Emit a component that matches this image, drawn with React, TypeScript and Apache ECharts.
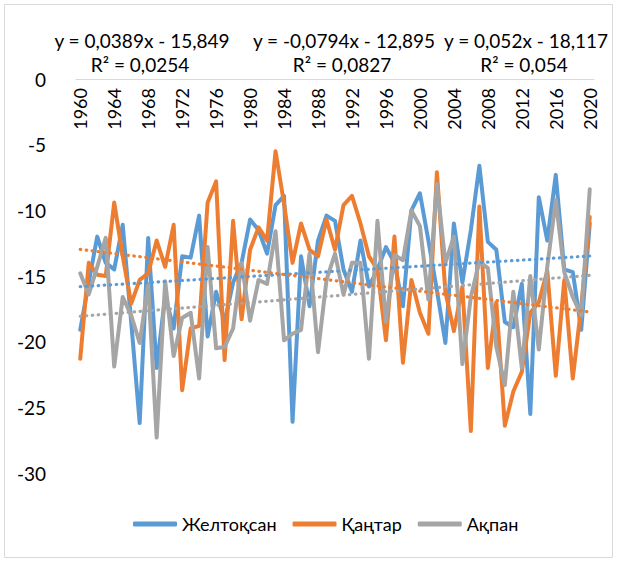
import React, { useEffect, useRef } from "react";
import * as echarts from "echarts";

const years: string[] = Array.from({ length: 61 }, (_, i) => String(1960 + i));

// December mean temperatures
const zheltoksan: number[] = [
  -19.1, -15.5, -12.0, -14.0, -14.5, -11.1, -18.5, -26.2, -12.1, -22.0,
  -16.5, -19.0, -13.5, -13.6, -10.4, -19.6, -16.2, -18.5, -15.5, -14.0,
  -10.7, -11.5, -13.3, -9.6, -8.9, -26.1, -13.5, -17.3, -12.3, -10.4,
  -10.8, -14.5, -16.2, -12.3, -15.8, -14.5, -12.8, -14.0, -17.3, -10.0,
  -8.7, -12.3, -16.1, -20.1, -11.0, -15.5, -11.5, -6.6, -12.4, -13.0,
  -18.5, -18.9, -15.6, -25.5, -9.0, -12.3, -7.3, -14.5, -14.7, -19.1,
  -11.0,
];

// January mean temperatures
const qantar: number[] = [
  -21.3, -14.0, -14.9, -15.0, -9.4, -13.5, -17.1, -15.3, -14.8, -12.3,
  -14.3, -11.1, -23.7, -19.0, -18.8, -9.4, -7.8, -21.4, -10.8, -18.3,
  -13.0, -11.3, -12.3, -5.5, -9.5, -14.0, -11.0, -13.0, -13.5, -10.7,
  -13.0, -9.6, -8.9, -11.0, -13.5, -14.5, -19.9, -12.0, -21.6, -15.3,
  -17.8, -19.4, -7.1, -16.2, -19.2, -15.8, -26.8, -9.7, -22.0, -17.0,
  -26.4, -23.8, -22.3, -17.8, -17.0, -14.6, -22.6, -15.3, -22.8, -17.3,
  -10.5,
];

// February mean temperatures
const aqpan: number[] = [
  -14.8, -16.4, -14.3, -12.1, -21.9, -16.6, -18.0, -20.1, -15.6, -27.3,
  -15.4, -21.1, -18.2, -17.8, -22.8, -12.8, -20.5, -20.4, -19.0, -14.0,
  -18.4, -15.3, -15.6, -11.6, -19.9, -19.4, -19.1, -13.3, -20.8, -15.3,
  -13.3, -16.4, -14.0, -14.0, -21.3, -10.8, -18.5, -13.4, -13.8, -10.0,
  -11.2, -16.8, -8.0, -14.0, -12.0, -21.7, -16.6, -13.9, -14.4, -20.4,
  -23.3, -16.2, -22.0, -15.0, -20.6, -14.3, -9.2, -14.7, -16.6, -18.0,
  -8.4,
];

// Linear trend coefficients (x = 1..61) and their R² values
const trendSlopes: number[] = [0.0389, -0.0794, 0.052];
const trendIntercepts: number[] = [-15.849, -12.895, -18.117];
const trendEquations: string[] = [
  "y = 0,0389x - 15,849",
  "y = -0,0794x - 12,895",
  "y = 0,052x - 18,117",
];
const trendR2: string[] = ["R² = 0,0254", "R² = 0,0827", "R² = 0,054"];

const seriesNames: string[] = ["Желтоқсан", "Қаңтар", "Ақпан"];
const seriesColors: string[] = ["#5B9BD5", "#ED7D31", "#A5A5A5"];

const FONT = "Lato, 'Noto Sans', sans-serif";

export default function App() {
  const ref = useRef<HTMLDivElement>(null);

  useEffect(() => {
    document.body.style.margin = "0";
    if (!ref.current) return;
    const chart = echarts.init(ref.current, undefined, { renderer: "svg" });
    const values = [zheltoksan, qantar, aqpan];

    const trend = (k: number) =>
      years.map((_, i) => +(trendSlopes[k] * (i + 1) + trendIntercepts[k]).toFixed(4));

    const eqCenters = [142, 344, 526];

    chart.setOption({
      animation: false,
      backgroundColor: "#ffffff",
      textStyle: { fontFamily: FONT },
      grid: { left: 76, right: 24, top: 79, bottom: 90, containLabel: false },
      xAxis: {
        type: "category",
        data: years,
        position: "top",
        boundaryGap: true,
        axisLine: { show: true, lineStyle: { color: "#d9d9d9", width: 1 } },
        axisTick: { show: false },
        axisLabel: {
          interval: 3,
          rotate: 90,
          inside: true,
          margin: 9,
          fontSize: 18,
          color: "#000",
          fontFamily: FONT,
        },
        splitLine: { show: false },
      },
      yAxis: {
        type: "value",
        min: -30,
        max: 0,
        interval: 5,
        axisLine: { show: false },
        axisTick: { show: false },
        splitLine: { show: false },
        axisLabel: { fontSize: 19, color: "#000", margin: 30, fontFamily: FONT },
      },
      legend: {
        data: seriesNames,
        bottom: 25,
        left: 128,
        icon: "roundRect",
        itemWidth: 44,
        itemHeight: 5,
        itemGap: 16,
        textStyle: { fontSize: 18, color: "#000", fontFamily: FONT },
      },
      graphic: [
        {
          type: "rect",
          shape: { x: 4.5, y: 4.5, width: 608, height: 553 },
          style: { fill: "none", stroke: "#d9d9d9", lineWidth: 1 },
          silent: true,
        },
        ...trendEquations.map((t, k) => ({
          type: "text",
          x: eqCenters[k],
          y: 40,
          style: {
            text: t,
            fill: "#000",
            font: `19px ${FONT}`,
            textAlign: "center",
            textVerticalAlign: "middle",
          },
        })),
        ...trendR2.map((t, k) => ({
          type: "text",
          x: eqCenters[k] - 2,
          y: 64,
          style: {
            text: t,
            fill: "#000",
            font: `19px ${FONT}`,
            textAlign: "center",
            textVerticalAlign: "middle",
          },
        })),
      ],
      series: [
        ...values.map((d, k) => ({
          name: seriesNames[k],
          type: "line",
          data: d,
          symbol: "none",
          color: seriesColors[k],
          lineStyle: { width: 4, color: seriesColors[k], cap: "round", join: "round" },
          z: 2,
        })),
        ...values.map((_, k) => ({
          name: seriesNames[k] + " trend",
          type: "line",
          data: trend(k),
          symbol: "none",
          silent: true,
          color: seriesColors[k],
          lineStyle: {
            width: 3.2,
            color: seriesColors[k],
            type: [0.5, 5.5],
            cap: "round",
          },
          z: 3,
        })),
      ],
    });

    return () => chart.dispose();
  }, []);

  return <div ref={ref} style={{ width: 618, height: 563 }} />;
}
